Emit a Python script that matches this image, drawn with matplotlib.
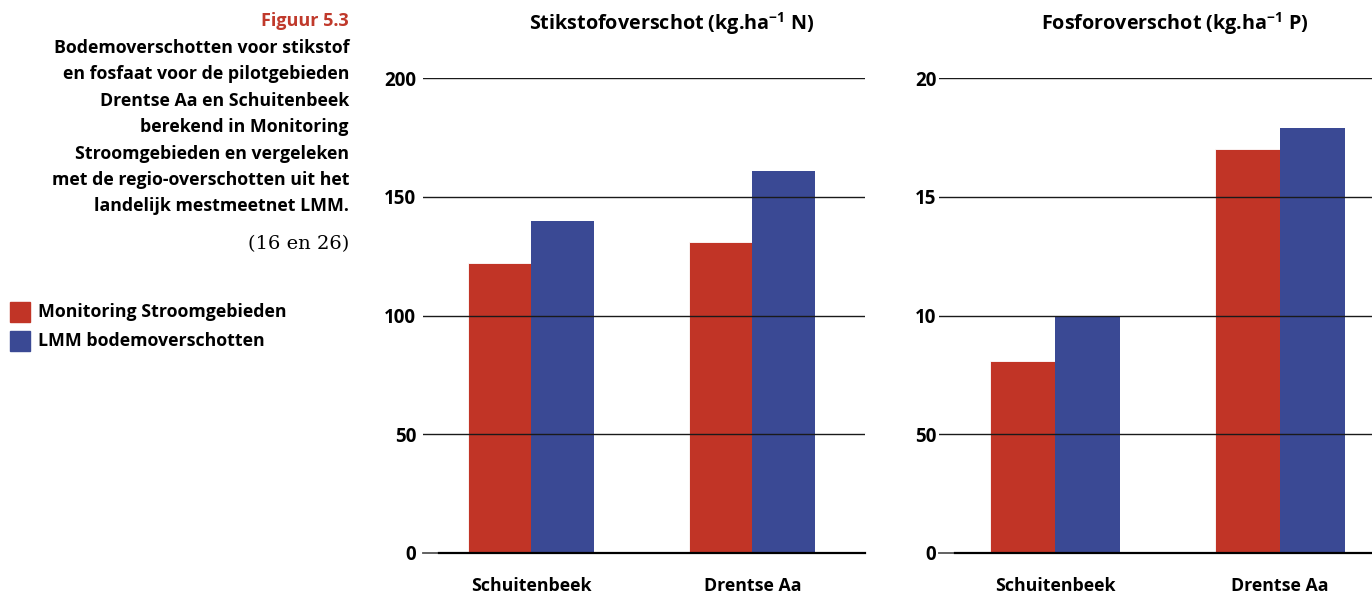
import matplotlib
matplotlib.use("Agg")
import matplotlib.pyplot as plt
from matplotlib.patches import Rectangle

plt.rcParams['font.family'] = ['Open Sans', 'DejaVu Sans']
plt.rcParams['mathtext.fontset'] = 'custom'
plt.rcParams['mathtext.rm'] = 'Open Sans'
plt.rcParams['mathtext.bf'] = 'Open Sans:bold'

# Data
categories = ["Schuitenbeek", "Drentse Aa"]
series_names = ["Monitoring Stroomgebieden", "LMM bodemoverschotten"]
stikstof_ms = [122, 131]
stikstof_lmm = [140, 161]
fosfor_ms = [8.1, 17.0]
fosfor_lmm = [10.0, 17.9]
stikstof_ticks = [0, 50, 100, 150, 200]
stikstof_ticklabels = ["0", "50", "100", "150", "200"]
fosfor_ticks = [0, 5, 10, 15, 20]
fosfor_ticklabels = ["0", "50", "10", "15", "20"]

RED = "#c13426"
BLUE = "#3a4994"
TITLE_RED = "#c0392b"

W, H = 1372, 593
fig = plt.figure(figsize=(W / 100, H / 100), dpi=100)


def px_axes(x0, x1, y_top, y_bot):
    return fig.add_axes([x0 / W, 1 - y_bot / H, (x1 - x0) / W, (y_bot - y_top) / H])


def draw_panel(ax, ms, lmm, ticks, ticklabels, ymax, bar_w, xlim, pad, base_start):
    x = range(len(categories))
    ax.bar([i - bar_w / 2 for i in x], ms, width=bar_w, color=RED, zorder=1,
           edgecolor="white", linewidth=0.6)
    ax.bar([i + bar_w / 2 for i in x], lmm, width=bar_w, color=BLUE, zorder=1)
    ax.set_xlim(*xlim)
    ax.set_ylim(0, ymax)
    for t in ticks[1:]:
        ax.axhline(t, color="#1a1a1a", lw=1.0, zorder=3)
    # baseline: thin lead-in, then a heavier axis line
    ax.axhline(0, xmin=0, xmax=base_start, color="#555555", lw=1.3, zorder=3, clip_on=False)
    ax.axhline(0, xmin=base_start, xmax=1.0, color="black", lw=1.6, zorder=3, clip_on=False)
    ax.set_yticks(ticks)
    ax.set_yticklabels(ticklabels, fontsize=13.5, fontweight="bold")
    ax.tick_params(axis="y", length=0, pad=pad)
    ax.set_xticks(list(x))
    ax.set_xticklabels(categories, fontsize=12.8, fontweight="bold")
    ax.tick_params(axis="x", length=0, pad=17)
    for s in ax.spines.values():
        s.set_visible(False)


# Stikstof panel
ax1 = px_axes(423, 865, 78, 553)
draw_panel(ax1, stikstof_ms, stikstof_lmm, stikstof_ticks, stikstof_ticklabels,
           200, 0.285, (-0.49, 1.51), 5, 16 / 442)

# Fosfor panel (runs past the right edge)
ax2 = px_axes(939, 1392, 78, 553)
draw_panel(ax2, fosfor_ms, fosfor_lmm, fosfor_ticks, fosfor_ticklabels,
           20, 0.289, (-0.516, 1.498), 2, 16 / 453)

# Panel titles
fig.text(672 / W, 1 - 24 / H, r"Stikstofoverschot (kg.ha$^{\mathbf{-1}}$ N)", ha="center",
         va="center", fontsize=14.2, fontweight="bold")
fig.text(1175 / W, 1 - 24 / H, r"Fosforoverschot (kg.ha$^{\mathbf{-1}}$ P)", ha="center",
         va="center", fontsize=14.2, fontweight="bold")

# Caption block
fig.text(349 / W, 1 - 21 / H, "Figuur 5.3", ha="right", va="center", color=TITLE_RED,
         fontsize=13, fontweight="bold")
caption = [
    "Bodemoverschotten voor stikstof",
    "en fosfaat voor de pilotgebieden",
    "Drentse Aa en Schuitenbeek",
    "berekend in Monitoring",
    "Stroomgebieden en vergeleken",
    "met de regio-overschotten uit het",
    "landelijk mestmeetnet LMM.",
]
for i, line in enumerate(caption):
    fig.text(349 / W, 1 - (48 + i * 26.4) / H, line, ha="right", va="center",
             fontsize=12.8, fontweight="bold")
fig.text(349 / W, 1 - 244 / H, "(16 en 26)", ha="right", va="center",
         fontsize=14, family="DejaVu Serif")

# Legend
for j, (name, col) in enumerate(zip(series_names, [RED, BLUE])):
    yc = 312 + j * 29
    fig.patches.append(Rectangle((10 / W, 1 - (yc + 10) / H), 20 / W, 20 / H,
                                 transform=fig.transFigure, color=col))
    fig.text(38 / W, 1 - yc / H, name, ha="left", va="center",
             fontsize=12.8, fontweight="bold")

fig.savefig("out.png", dpi=100)
